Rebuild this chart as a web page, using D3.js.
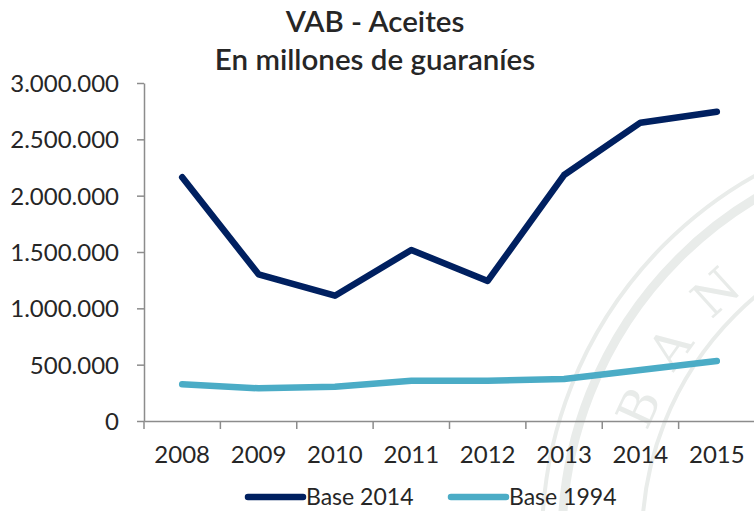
<!DOCTYPE html>
<html>
<head>
<meta charset="utf-8">
<script src="https://cdn.jsdelivr.net/npm/d3@7"></script>
<style>
  body { margin: 0; background: #fff; }
  text { font-family: Lato, "Open Sans", sans-serif; fill: #262626; }
</style>
</head>
<body>
<svg width="754" height="511"></svg>
<script>
const years = ["2008", "2009", "2010", "2011", "2012", "2013", "2014", "2015"];
const base2014 = [2163000, 1302000, 1112000, 1518000, 1243000, 2183000, 2648000, 2745000];
const base1994 = [326000, 290000, 304000, 358000, 358000, 373000, 453000, 533000];
const yTicks = [0, 500000, 1000000, 1500000, 2000000, 2500000, 3000000];
const seriesNames = ["Base 2014", "Base 1994"];
const titleLines = ["VAB - Aceites", "En millones de guaraníes"];

const colors = ["#002060", "#4bacc6"];
const svg = d3.select("svg");

// faint seal watermark in the background
const wm = svg.append("g").attr("fill", "none").attr("stroke", "#e9ecea");
const cx = 960, cy = 540;
[[418, 4], [398, 9], [318, 4]].forEach(([r, w]) => {
  wm.append("circle").attr("cx", cx).attr("cy", cy).attr("r", r).attr("stroke-width", w);
});
const rr = 330;
svg.append("path").attr("id", "sealPath").attr("fill", "none")
  .attr("d", `M${cx - rr},${cy} A${rr},${rr} 0 1,1 ${cx + rr},${cy} A${rr},${rr} 0 1,1 ${cx - rr},${cy}`);
svg.append("text")
  .style("font-family", "'DejaVu Serif', 'Liberation Serif', serif")
  .style("font-size", "50px").style("fill", "#e8ebe9").style("letter-spacing", "28px")
  .append("textPath").attr("href", "#sealPath").attr("startOffset", 110)
  .text("BANC");

const x = d3.scaleBand().domain(years).range([144, 755]).paddingInner(0).paddingOuter(0);
const y = d3.scaleLinear().domain([0, 3000000]).range([421, 83]);

const fmt = d3.formatLocale({decimal: ",", thousands: ".", grouping: [3], currency: ["", ""]}).format(",");

// y axis
const yAxis = d3.axisLeft(y).tickValues(yTicks).tickSizeInner(7).tickSizeOuter(0)
  .tickPadding(18).tickFormat(fmt);
const gy = svg.append("g").attr("transform", "translate(144,0)").call(yAxis);
gy.selectAll("path, line").attr("stroke", "#8c8c8c").attr("stroke-width", 1.5);
gy.selectAll("text").style("font-size", "24px").attr("fill", "#262626").attr("dy", "0.36em");

// x axis, ticks on the band edges
const xAxis = d3.axisBottom(x).tickSizeInner(0).tickSizeOuter(0);
const gx = svg.append("g").attr("transform", "translate(0,421)").call(xAxis);
gx.select(".domain").attr("stroke", "#8c8c8c").attr("stroke-width", 1.5);
gx.selectAll("text").style("font-size", "24px").attr("fill", "#262626").attr("dy", null).attr("y", 42);
gx.selectAll(".edge").data(years).enter().append("line")
  .attr("x1", d => x(d)).attr("x2", d => x(d)).attr("y1", 0).attr("y2", 8)
  .attr("stroke", "#8c8c8c").attr("stroke-width", 1.5);

// lines
const line = d3.line().x((d, i) => x(years[i]) + x.bandwidth() / 2).y(d => y(d));
[base2014, base1994].forEach((s, k) => {
  svg.append("path").datum(s)
    .attr("fill", "none").attr("stroke", colors[k]).attr("stroke-width", 6.5)
    .attr("stroke-linecap", "round").attr("stroke-linejoin", "round")
    .attr("d", line);
});

// title
svg.append("g").selectAll("text").data(titleLines).enter().append("text")
  .attr("x", 375).attr("y", (d, i) => 32 + i * 38)
  .attr("text-anchor", "middle")
  .style("font-size", "29.5px").style("font-weight", "600")
  .text(d => d);

// legend
const legX = [248, 451];
const lg = svg.append("g");
seriesNames.forEach((n, k) => {
  lg.append("line").attr("x1", legX[k]).attr("x2", legX[k] + 55).attr("y1", 497).attr("y2", 497)
    .attr("stroke", colors[k]).attr("stroke-width", 6.5).attr("stroke-linecap", "round");
  lg.append("text").attr("x", legX[k] + 58).attr("y", 505).style("font-size", "23px").text(n);
});
</script>
</body>
</html>
